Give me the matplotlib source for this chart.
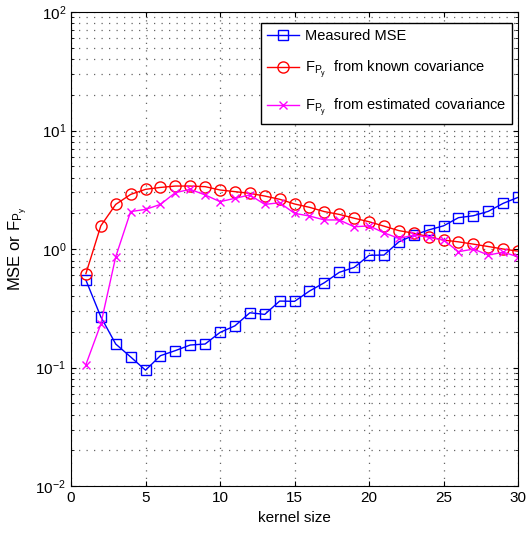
import numpy as np
import matplotlib.pyplot as plt

plt.rcParams['font.family'] = ['Liberation Sans', 'DejaVu Sans']
plt.rcParams['mathtext.default'] = 'regular'
plt.rcParams['font.size'] = 11

kernel = np.arange(1, 31)
mse = [0.547, 0.268, 0.158, 0.123, 0.095, 0.126, 0.139, 0.155, 0.158, 0.198,
       0.225, 0.29, 0.281, 0.364, 0.362, 0.442, 0.52, 0.636, 0.70, 0.885,
       0.89, 1.15, 1.31, 1.45, 1.57, 1.84, 1.91, 2.08, 2.43, 2.73]
f_known = [0.62, 1.57, 2.38, 2.89, 3.19, 3.31, 3.4, 3.4, 3.36, 3.15,
           3.05, 2.95, 2.8, 2.63, 2.4, 2.25, 2.07, 1.96, 1.82, 1.70,
           1.56, 1.43, 1.36, 1.27, 1.19, 1.15, 1.10, 1.05, 1.0, 0.96]
f_est = [0.106, 0.233, 0.86, 2.07, 2.16, 2.38, 2.99, 3.19, 2.86, 2.51,
         2.68, 2.86, 2.38, 2.46, 2.0, 1.90, 1.76, 1.76, 1.54, 1.57,
         1.37, 1.23, 1.31, 1.26, 1.19, 0.95, 1.0, 0.89, 0.94, 0.86]

fig = plt.figure(figsize=(5.26, 5.33), dpi=100)
ax = fig.add_axes([0.135, 0.088, 0.85, 0.8895])

ax.semilogy(kernel, mse, 's-', color='blue', mfc='none', ms=7, lw=1,
            label='Measured MSE')
ax.semilogy(kernel, f_known, 'o-', color='red', mfc='none', ms=8, lw=1,
            label='$F_{P_y}$  from known covariance')
ax.semilogy(kernel, f_est, 'x-', color='magenta', ms=6, lw=1,
            label='$F_{P_y}$  from estimated covariance')

ax.set_xlim(0, 30)
ax.set_ylim(1e-2, 1e2)
ax.set_xticks([0, 5, 10, 15, 20, 25, 30])
ax.grid(True, which='both', linestyle=(0, (1, 5)), color='#666666', lw=0.9)
ax.tick_params(which='both', direction='in', top=True, right=True)
ax.set_xlabel('kernel size')
ax.set_ylabel('MSE or $F_{P_y}$', fontsize=12)

leg = ax.legend(loc='upper right', bbox_to_anchor=(0.987, 0.977),
                borderaxespad=0, fancybox=False, edgecolor='black',
                framealpha=1, handlelength=2.2, handletextpad=0.4,
                labelspacing=1.1, fontsize=10.5)
leg.get_frame().set_linewidth(1)

fig.savefig('out.png')
